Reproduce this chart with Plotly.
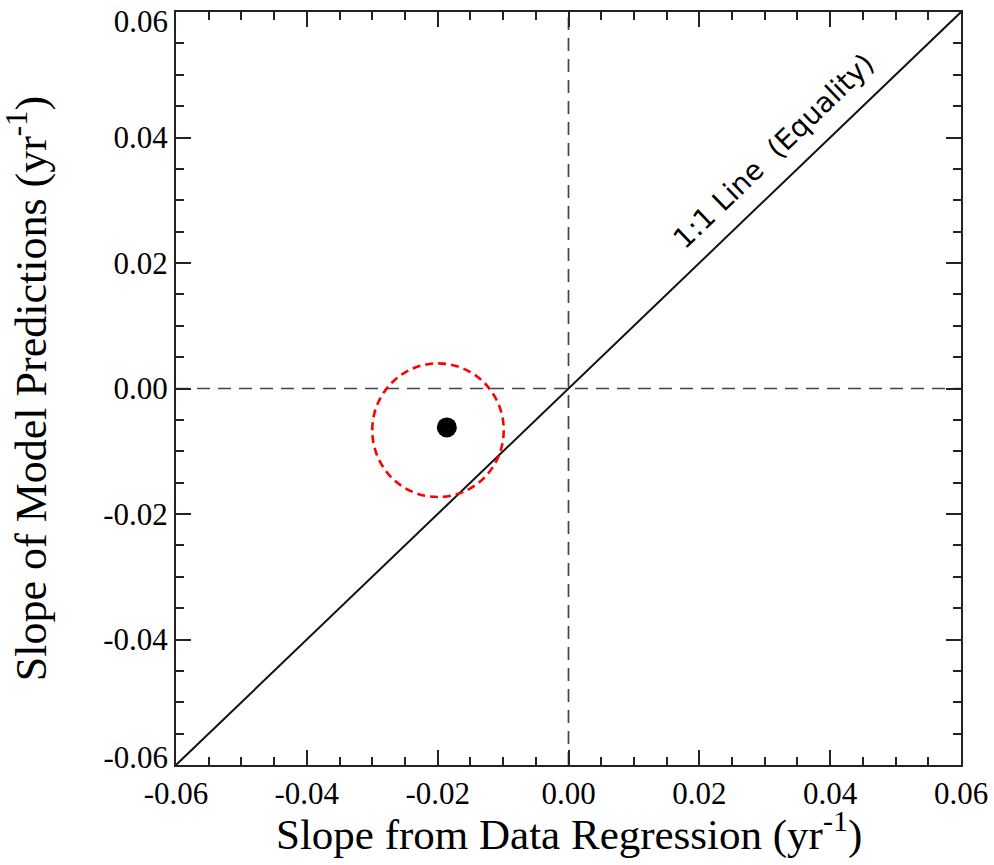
import plotly.graph_objects as go

# Axis range and tick marks
axis_range = [-0.06, 0.06]
tick_vals = [-0.06, -0.04, -0.02, 0.0, 0.02, 0.04, 0.06]
tick_text = ["-0.06", "-0.04", "-0.02", "0.00", "0.02", "0.04", "0.06"]

# y labels: inner ones sit on their ticks, the two end labels are nudged inward
y_inner_vals = [-0.04, -0.02, 0.0, 0.02, 0.04]
y_inner_text = ["-0.04", "-0.02", "0.00", "0.02", "0.04"]
y_top_val, y_top_text = [0.06], ["0.06"]
y_bottom_val, y_bottom_text = [-0.06], ["-0.06"]

x_title = "Slope from Data Regression (yr<sup>-1</sup>)"
y_title = "Slope of Model Predictions (yr<sup>-1</sup>)"

# 1:1 reference line
equality_x = [-0.06, 0.06]
equality_y = [-0.06, 0.06]

# Observed slope pair (data regression vs. model prediction)
point_x = [-0.0186]
point_y = [-0.0062]

# Highlight ring around the point
ring_x = [-0.0300, -0.0099]
ring_y = [-0.0173, 0.0040]

serif = "Liberation Serif"
axis_color = "#222222"
tick_font = dict(family=serif, size=31, color="black")
title_font = dict(family=serif, size=43, color="black")

fig = go.Figure()

fig.add_trace(go.Scatter(
    x=equality_x, y=equality_y, mode="lines",
    line=dict(color="#111111", width=2), hoverinfo="skip", showlegend=False,
))

fig.add_trace(go.Scatter(
    x=point_x, y=point_y, mode="markers",
    marker=dict(color="black", size=20, line=dict(width=0)),
    showlegend=False,
))

# Empty traces so the label-only overlay axes get drawn
for axis_id in ("y2", "y3"):
    fig.add_trace(go.Scatter(x=[None], y=[None], yaxis=axis_id, mode="markers",
                             showlegend=False, hoverinfo="skip"))

# Dashed zero lines
fig.add_shape(type="line", xref="x", yref="y", x0=0, x1=0,
              y0=axis_range[0], y1=axis_range[1],
              line=dict(color="#444444", width=1.7, dash="13px,8px"), layer="below")
fig.add_shape(type="line", xref="x", yref="y", y0=0, y1=0,
              x0=axis_range[0], x1=axis_range[1],
              line=dict(color="#444444", width=1.7, dash="13px,8px"), layer="below")

# Red dashed ring
fig.add_shape(type="circle", xref="x", yref="y",
              x0=ring_x[0], x1=ring_x[1], y0=ring_y[0], y1=ring_y[1],
              line=dict(color="#ff0000", width=2.6, dash="8px,5px"))

fig.add_annotation(
    x=0.0313, y=0.0378, xref="x", yref="y",
    text="1:1 Line  (Equality)", showarrow=False, textangle=-44,
    font=dict(family="DejaVu Sans", size=28, color="black"),
)

# x-axis title, set a little closer to the tick labels than the axis title allows
fig.add_annotation(
    x=0.5, y=0, xref="paper", yref="paper", xanchor="center", yanchor="middle",
    yshift=-66, text=x_title, showarrow=False, font=title_font,
)

tick_style = dict(
    ticks="inside", ticklen=15, tickwidth=2, tickcolor=axis_color,
    showline=True, linewidth=2, linecolor=axis_color, mirror="ticks",
    showgrid=False, zeroline=False, automargin=False,
    minor=dict(dtick=0.005, ticks="inside", ticklen=8, tickwidth=2,
               tickcolor=axis_color, showgrid=False),
)

label_axis = dict(
    overlaying="y", anchor="x", side="left", range=axis_range,
    tickfont=tick_font, ticks="", showline=False, showgrid=False,
    zeroline=False, ticklabeloverflow="allow", automargin=False,
    ticklabelstandoff=7,
)

fig.update_layout(
    xaxis=dict(
        **tick_style, range=axis_range, tickvals=tick_vals, ticktext=tick_text,
        tickfont=tick_font, ticklabeloverflow="allow",
    ),
    yaxis=dict(
        **tick_style, range=axis_range, tickvals=y_inner_vals, ticktext=y_inner_text,
        tickfont=tick_font,
        title=dict(text=y_title, font=dict(family=serif, size=44, color="black"),
                   standoff=43),
    ),
    yaxis2=dict(**label_axis, tickvals=y_top_val, ticktext=y_top_text,
                ticklabelshift=9),
    yaxis3=dict(**label_axis, tickvals=y_bottom_val, ticktext=y_bottom_text,
                ticklabelshift=-8),
    width=994, height=865,
    margin=dict(l=176, r=33, t=12, b=100, autoexpand=False),
    plot_bgcolor="white", paper_bgcolor="white",
)

fig.write_html("out.html")
